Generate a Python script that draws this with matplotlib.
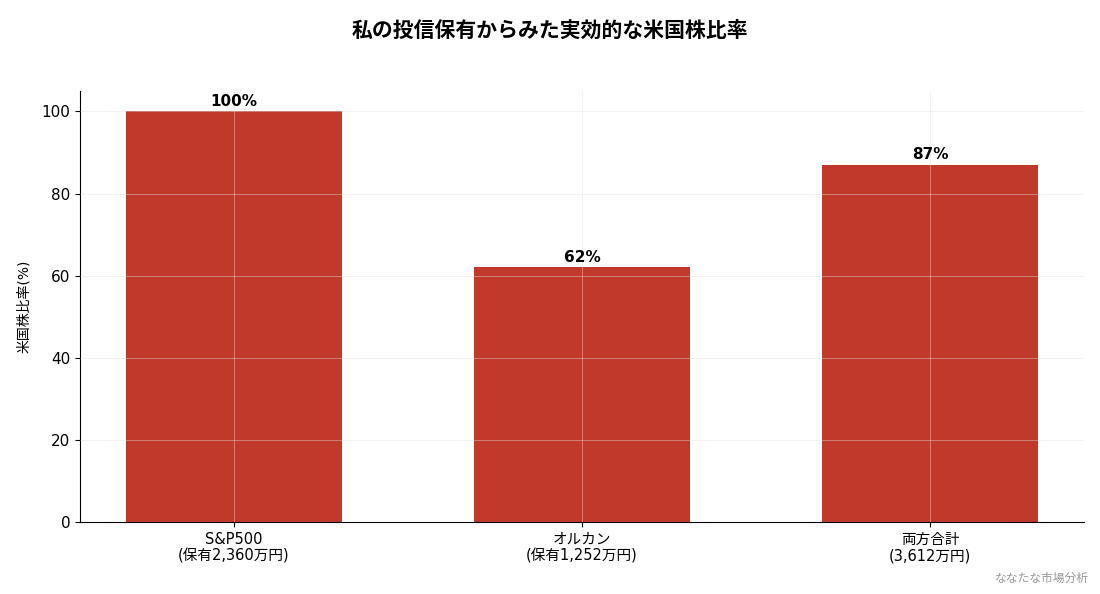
import matplotlib
matplotlib.use("Agg")
import matplotlib.pyplot as plt

plt.rcParams['font.family'] = ['DejaVu Sans', 'Noto Sans CJK JP']

# data
labels = ["S&P500\n(保有2,360万円)", "オルカン\n(保有1,252万円)", "両方合計\n(3,612万円)"]
us_ratio = [100, 62, 87]

fig, ax = plt.subplots(figsize=(11, 5.94), dpi=100)
fig.subplots_adjust(left=0.073, right=0.985, top=0.847, bottom=0.121)

x = range(len(labels))
bars = ax.bar(x, us_ratio, width=0.62, color="#c0392b")
ax.set_xticks(list(x))
ax.set_xticklabels(labels, fontsize=10.5, linespacing=1.15)
ax.tick_params(axis="y", labelsize=11)
ax.set_ylabel("米国株比率(%)", fontsize=10, labelpad=8)
ax.set_ylim(0, 105)

for b, v in zip(bars, us_ratio):
    ax.text(b.get_x() + b.get_width() / 2, v + 0.6, f"{v}%",
            ha="center", va="bottom", fontsize=11, fontweight="bold")

ax.grid(True, color="#e0e0e0", alpha=0.5, linewidth=0.6)
ax.set_axisbelow(False)
ax.spines["top"].set_visible(False)
ax.spines["right"].set_visible(False)

fig.suptitle("私の投信保有からみた実効的な米国株比率", fontsize=15, fontweight="bold", y=0.966)
fig.text(0.99, 0.015, "ななたな市場分析", ha="right", va="bottom", fontsize=8.5, color="#999999")

fig.savefig("out.png", dpi=100)
